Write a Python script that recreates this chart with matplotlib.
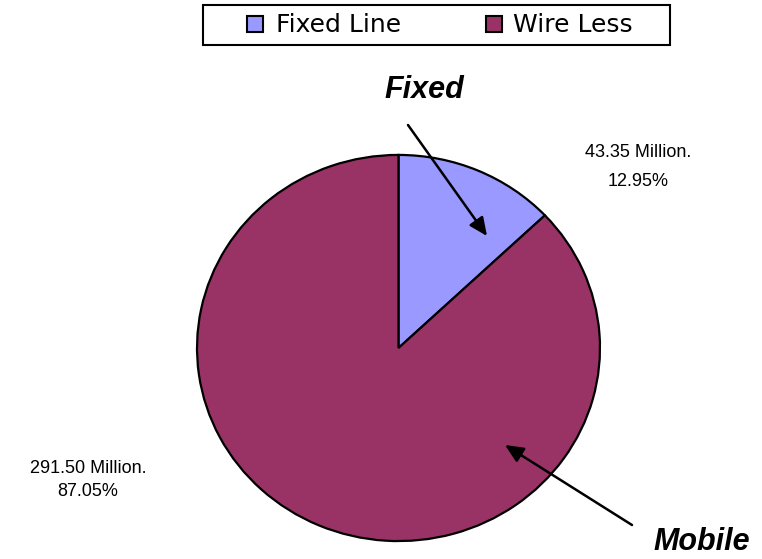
import matplotlib
matplotlib.use("Agg")
import matplotlib.pyplot as plt
from matplotlib.patches import Rectangle

categories = ["Fixed Line", "Wire Less"]
values = [43.35, 291.50]
percents = ["12.95%", "87.05%"]
colors = ["#9999FF", "#993366"]
callouts = ["Fixed", "Mobile"]

W, H = 762, 559
fig = plt.figure(figsize=(W / 100, H / 100), dpi=100)

# pie axes (slightly elliptical, as in the reference)
pl, pr, pt, pb = 195, 602, 153, 543
pax = fig.add_axes([pl / W, 1 - pb / H, (pr - pl) / W, (pb - pt) / H])
pax.pie(values, colors=colors, startangle=90, counterclock=False, radius=1,
        frame=True, wedgeprops=dict(edgecolor="black", linewidth=1.6))
pax.set_aspect("auto")
pax.set_xlim(-1.01, 1.01)
pax.set_ylim(-1.01, 1.01)
pax.axis("off")

# overlay in pixel coordinates (origin top-left)
ax = fig.add_axes([0, 0, 1, 1])
ax.set_xlim(0, W)
ax.set_ylim(H, 0)
ax.axis("off")
ax.patch.set_alpha(0)

lab = dict(family="Liberation Sans", fontsize=13, ha="center", va="center")
ax.text(638, 167, f"{values[0]:.2f} Million.\n{percents[0]}", linespacing=1.85, **lab)
ax.text(88, 480, f"{values[1]:.2f} Million.\n{percents[1]}", linespacing=1.5, **lab)

ann = dict(family="Liberation Sans", fontsize=22, fontweight="bold", fontstyle="italic",
           ha="center", va="center")
ax.text(424, 90, callouts[0], **ann)
ax.text(702, 542, callouts[1], **ann)

arrow = dict(arrowstyle="-|>,head_length=1.1,head_width=0.5", color="black", lw=1.8,
             shrinkA=0, shrinkB=0)
ax.annotate("", xy=(487, 236), xytext=(408, 125), arrowprops=arrow)
ax.annotate("", xy=(505, 445), xytext=(632, 525), arrowprops=arrow)

# legend
ax.add_patch(Rectangle((203, 5), 467, 40, facecolor="white", edgecolor="black", lw=1.5))
sq_x = [247, 486]
tx_x = [276, 513]
for c, name, sx, tx in zip(colors, categories, sq_x, tx_x):
    ax.add_patch(Rectangle((sx, 16), 16, 16, facecolor=c, edgecolor="black", lw=1.5))
    ax.text(tx, 25, name, family="DejaVu Sans", fontsize=18, ha="left", va="center")

fig.savefig("out.png", dpi=100)
